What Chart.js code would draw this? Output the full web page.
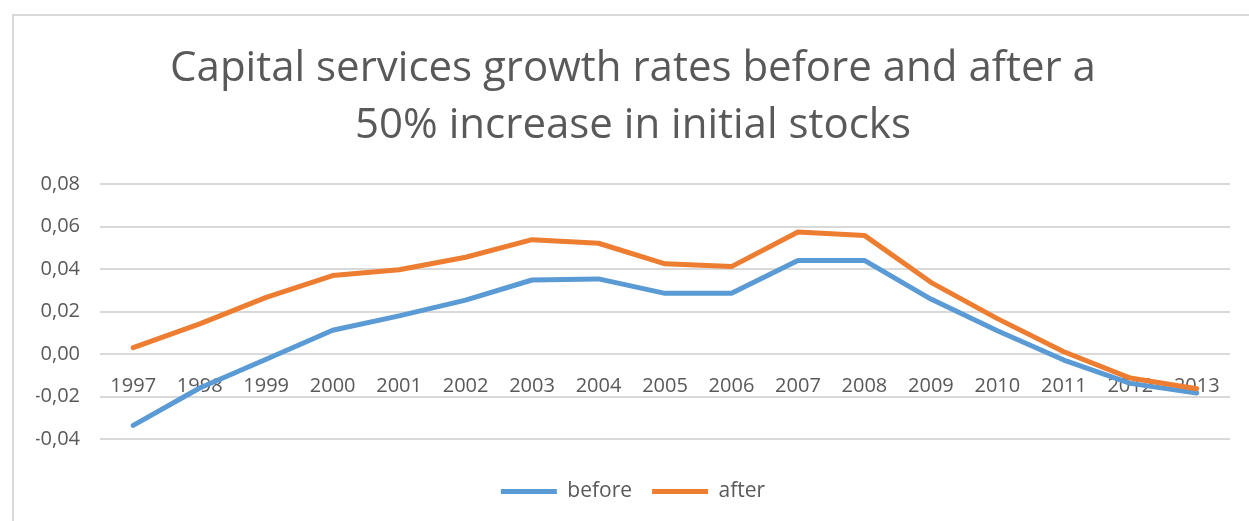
<!DOCTYPE html>
<html>
<head>
<meta charset="utf-8">
<script src="https://cdn.jsdelivr.net/npm/chart.js@4/dist/chart.umd.min.js"></script>
<style>
  html, body { margin: 0; padding: 0; background: #fff; overflow: hidden; }
  #frame {
    position: absolute; left: 12px; top: 14px;
    width: 1250px; height: 507px;
    border-left: 2px solid #d9d9d9; border-top: 2px solid #d9d9d9;
  }
</style>
</head>
<body>
<div id="frame"><canvas id="growthChart"></canvas></div>
<script>
const years = ['1997', '1998', '1999', '2000', '2001', '2002', '2003', '2004', '2005',
  '2006', '2007', '2008', '2009', '2010', '2011', '2012', '2013'];
const beforeRates = [-0.0336, -0.0160, -0.0024, 0.0112, 0.0180, 0.0254, 0.0349, 0.0354, 0.0286,
  0.0286, 0.0441, 0.0441, 0.0259, 0.0110, -0.0028, -0.0138, -0.0183];
const afterRates = [0.0030, 0.0142, 0.0267, 0.0370, 0.0397, 0.0456, 0.0539, 0.0522, 0.0425,
  0.0412, 0.0575, 0.0559, 0.0338, 0.0167, 0.0011, -0.0113, -0.0163];
const titleLines = ['Capital services growth rates before and after a', '50% increase in initial stocks'];

const textColor = '#595959';
const gridColor = '#d9d9d9';

function lineDataset(label, data, color, order) {
  return {
    label: label,
    data: data,
    borderColor: color,
    backgroundColor: color,
    borderWidth: 5,
    borderCapStyle: 'round',
    borderJoinStyle: 'round',
    pointRadius: 0,
    pointHoverRadius: 0,
    tension: 0,
    order: order
  };
}

const ctx = document.getElementById('growthChart').getContext('2d');
new Chart(ctx, {
  type: 'line',
  data: {
    labels: years,
    datasets: [
      lineDataset('before', beforeRates, '#5b9bd5', 1),
      lineDataset('after', afterRates, '#ed7d31', 0)
    ]
  },
  options: {
    responsive: true,
    maintainAspectRatio: false,
    animation: false,
    layout: { padding: { left: 22, right: 34, top: 0, bottom: 11 } },
    plugins: {
      title: {
        display: true,
        text: titleLines,
        color: textColor,
        font: { family: 'Open Sans', size: 42, weight: 'normal', lineHeight: 1.36 },
        padding: { top: 24, bottom: 30 }
      },
      legend: {
        position: 'bottom',
        title: { display: true, text: '', font: { size: 1, lineHeight: 1 }, padding: { top: 21, bottom: 0 } },
        labels: {
          color: textColor,
          font: { family: 'Open Sans', size: 21 },
          usePointStyle: true,
          pointStyle: 'line',
          pointStyleWidth: 56,
          padding: 20,
          sort: (a, b) => a.datasetIndex - b.datasetIndex
        }
      },
      tooltip: { enabled: false }
    },
    scales: {
      x: {
        position: { y: 0 },
        offset: true,
        grid: { display: false, drawTicks: false },
        border: { display: false },
        ticks: {
          color: textColor,
          font: { family: 'Open Sans', size: 20 },
          padding: 20,
          maxRotation: 0,
          autoSkip: false
        }
      },
      y: {
        min: -0.04,
        max: 0.08,
        afterFit: scale => { scale.width = 64; },
        grid: { color: gridColor, lineWidth: 2, drawTicks: false },
        border: { display: false },
        ticks: {
          stepSize: 0.02,
          color: textColor,
          font: { family: 'Open Sans', size: 20 },
          padding: 20,
          callback: v => v.toFixed(2).replace('.', ',').replace('-0,00', '0,00')
        }
      }
    }
  }
});
</script>
</body>
</html>
